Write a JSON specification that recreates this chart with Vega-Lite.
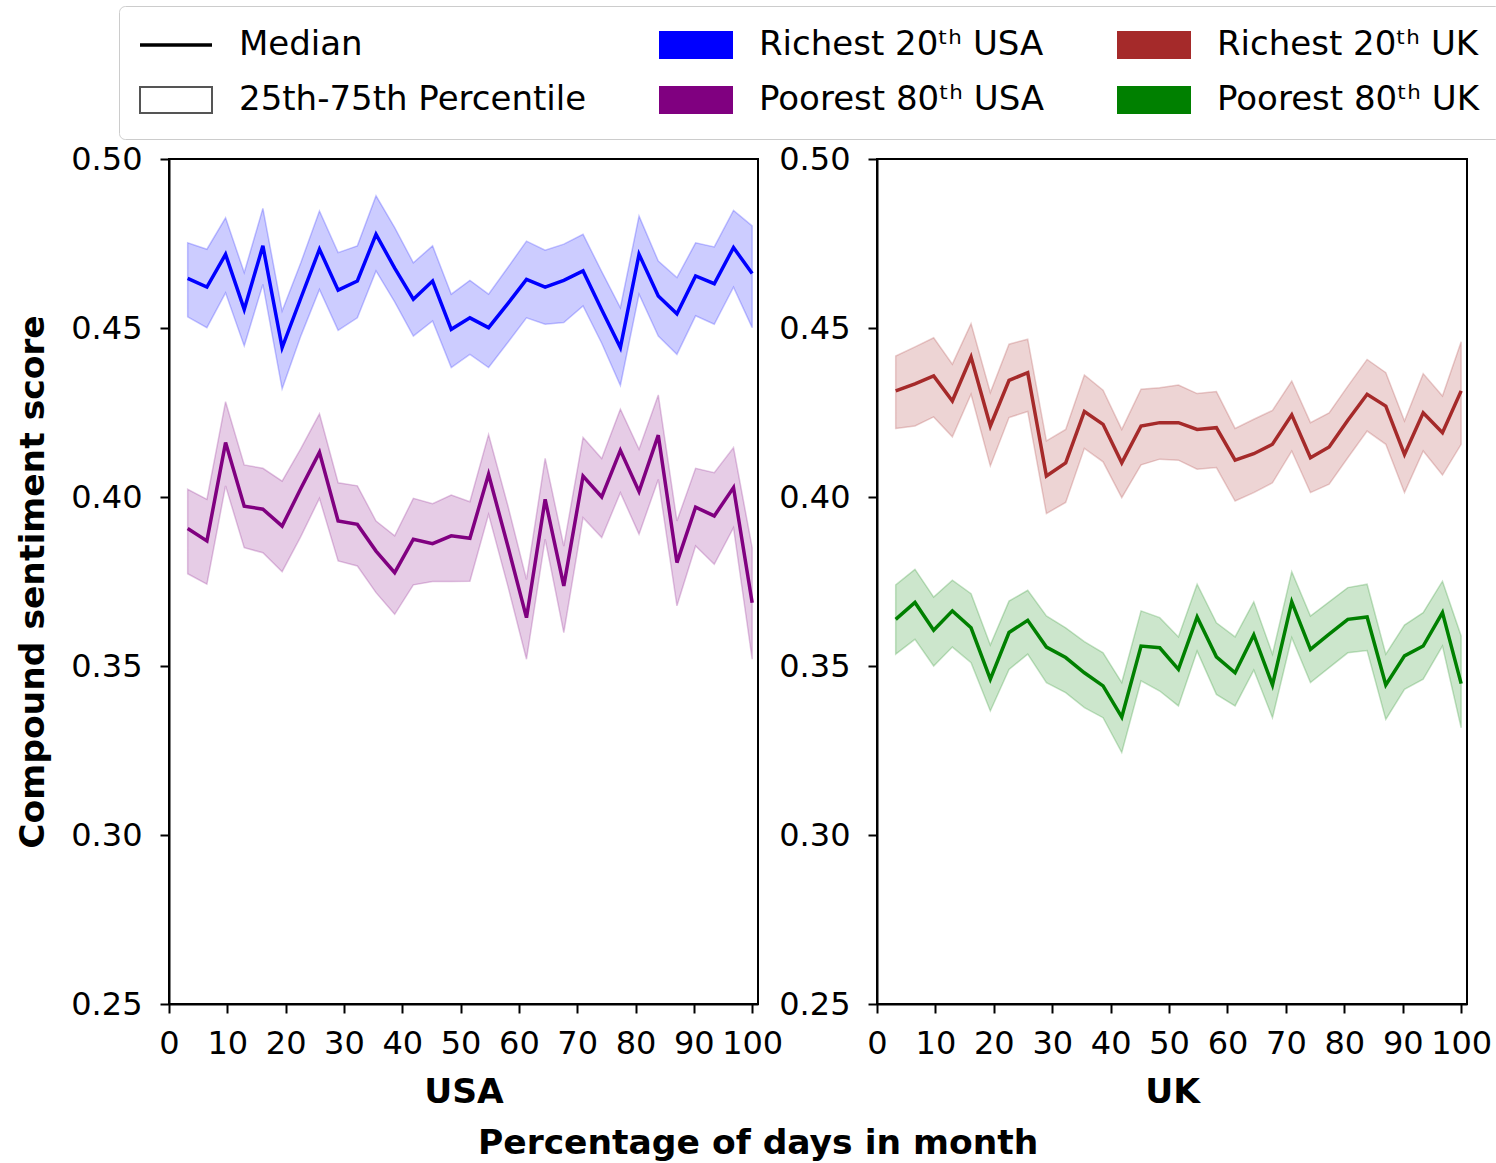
{
"$schema": "https://vega.github.io/schema/vega-lite/v6.json",
"padding": {"left": 14, "top": 5, "right": 4, "bottom": 6},
"background": "white",
"bounds": "flush",
"spacing": 119,
"title": {"text": "Percentage of days in month", "orient": "bottom", "anchor": "middle", "font": "DejaVu Sans", "fontSize": 34.5, "fontWeight": "bold", "color": "black", "offset": 17},
"data": {"values": [
{"c":"USA","g":"Richest 20\u1d57\u02b0 USA","x":3.2,"m":0.4647,"l":0.4533,"h":0.4752},
{"c":"USA","g":"Richest 20\u1d57\u02b0 USA","x":6.5,"m":0.4621,"l":0.4501,"h":0.4733},
{"c":"USA","g":"Richest 20\u1d57\u02b0 USA","x":9.7,"m":0.4718,"l":0.4604,"h":0.4826},
{"c":"USA","g":"Richest 20\u1d57\u02b0 USA","x":12.9,"m":0.4555,"l":0.4447,"h":0.4664},
{"c":"USA","g":"Richest 20\u1d57\u02b0 USA","x":16.1,"m":0.4743,"l":0.4629,"h":0.4854},
{"c":"USA","g":"Richest 20\u1d57\u02b0 USA","x":19.4,"m":0.4442,"l":0.4320,"h":0.4550},
{"c":"USA","g":"Richest 20\u1d57\u02b0 USA","x":22.6,"m":0.4588,"l":0.4476,"h":0.4693},
{"c":"USA","g":"Richest 20\u1d57\u02b0 USA","x":25.8,"m":0.4733,"l":0.4614,"h":0.4846},
{"c":"USA","g":"Richest 20\u1d57\u02b0 USA","x":29.0,"m":0.4612,"l":0.4493,"h":0.4723},
{"c":"USA","g":"Richest 20\u1d57\u02b0 USA","x":32.3,"m":0.4639,"l":0.4530,"h":0.4743},
{"c":"USA","g":"Richest 20\u1d57\u02b0 USA","x":35.5,"m":0.4777,"l":0.4669,"h":0.4891},
{"c":"USA","g":"Richest 20\u1d57\u02b0 USA","x":38.7,"m":0.4677,"l":0.4577,"h":0.4797},
{"c":"USA","g":"Richest 20\u1d57\u02b0 USA","x":41.9,"m":0.4585,"l":0.4476,"h":0.4693},
{"c":"USA","g":"Richest 20\u1d57\u02b0 USA","x":45.2,"m":0.4639,"l":0.4521,"h":0.4743},
{"c":"USA","g":"Richest 20\u1d57\u02b0 USA","x":48.4,"m":0.4496,"l":0.4383,"h":0.4600},
{"c":"USA","g":"Richest 20\u1d57\u02b0 USA","x":51.6,"m":0.4530,"l":0.4422,"h":0.4641},
{"c":"USA","g":"Richest 20\u1d57\u02b0 USA","x":54.8,"m":0.4501,"l":0.4383,"h":0.4600},
{"c":"USA","g":"Richest 20\u1d57\u02b0 USA","x":58.1,"m":0.4572,"l":0.4457,"h":0.4679},
{"c":"USA","g":"Richest 20\u1d57\u02b0 USA","x":61.3,"m":0.4644,"l":0.4530,"h":0.4757},
{"c":"USA","g":"Richest 20\u1d57\u02b0 USA","x":64.5,"m":0.4621,"l":0.4511,"h":0.4730},
{"c":"USA","g":"Richest 20\u1d57\u02b0 USA","x":67.7,"m":0.4641,"l":0.4516,"h":0.4748},
{"c":"USA","g":"Richest 20\u1d57\u02b0 USA","x":71.0,"m":0.4669,"l":0.4565,"h":0.4777},
{"c":"USA","g":"Richest 20\u1d57\u02b0 USA","x":74.2,"m":0.4554,"l":0.4455,"h":0.4667},
{"c":"USA","g":"Richest 20\u1d57\u02b0 USA","x":77.4,"m":0.4442,"l":0.4330,"h":0.4560},
{"c":"USA","g":"Richest 20\u1d57\u02b0 USA","x":80.6,"m":0.4718,"l":0.4600,"h":0.4831},
{"c":"USA","g":"Richest 20\u1d57\u02b0 USA","x":83.9,"m":0.4595,"l":0.4476,"h":0.4698},
{"c":"USA","g":"Richest 20\u1d57\u02b0 USA","x":87.1,"m":0.4542,"l":0.4422,"h":0.4649},
{"c":"USA","g":"Richest 20\u1d57\u02b0 USA","x":90.3,"m":0.4654,"l":0.4536,"h":0.4752},
{"c":"USA","g":"Richest 20\u1d57\u02b0 USA","x":93.5,"m":0.4631,"l":0.4511,"h":0.4740},
{"c":"USA","g":"Richest 20\u1d57\u02b0 USA","x":96.8,"m":0.4738,"l":0.4621,"h":0.4848},
{"c":"USA","g":"Richest 20\u1d57\u02b0 USA","x":100,"m":0.4661,"l":0.4501,"h":0.4802},
{"c":"USA","g":"Poorest 80\u1d57\u02b0 USA","x":3.2,"m":0.3907,"l":0.3773,"h":0.4023},
{"c":"USA","g":"Poorest 80\u1d57\u02b0 USA","x":6.5,"m":0.3870,"l":0.3742,"h":0.3993},
{"c":"USA","g":"Poorest 80\u1d57\u02b0 USA","x":9.7,"m":0.4161,"l":0.4033,"h":0.4282},
{"c":"USA","g":"Poorest 80\u1d57\u02b0 USA","x":12.9,"m":0.3973,"l":0.3850,"h":0.4095},
{"c":"USA","g":"Poorest 80\u1d57\u02b0 USA","x":16.1,"m":0.3964,"l":0.3835,"h":0.4085},
{"c":"USA","g":"Poorest 80\u1d57\u02b0 USA","x":19.4,"m":0.3914,"l":0.3779,"h":0.4047},
{"c":"USA","g":"Poorest 80\u1d57\u02b0 USA","x":22.6,"m":0.4025,"l":0.3883,"h":0.4143},
{"c":"USA","g":"Poorest 80\u1d57\u02b0 USA","x":25.8,"m":0.4132,"l":0.3996,"h":0.4246},
{"c":"USA","g":"Poorest 80\u1d57\u02b0 USA","x":29.0,"m":0.3929,"l":0.3811,"h":0.4042},
{"c":"USA","g":"Poorest 80\u1d57\u02b0 USA","x":32.3,"m":0.3919,"l":0.3796,"h":0.4033},
{"c":"USA","g":"Poorest 80\u1d57\u02b0 USA","x":35.5,"m":0.3840,"l":0.3717,"h":0.3929},
{"c":"USA","g":"Poorest 80\u1d57\u02b0 USA","x":38.7,"m":0.3776,"l":0.3653,"h":0.3885},
{"c":"USA","g":"Poorest 80\u1d57\u02b0 USA","x":41.9,"m":0.3875,"l":0.3740,"h":0.3996},
{"c":"USA","g":"Poorest 80\u1d57\u02b0 USA","x":45.2,"m":0.3862,"l":0.3750,"h":0.3980},
{"c":"USA","g":"Poorest 80\u1d57\u02b0 USA","x":48.4,"m":0.3885,"l":0.3750,"h":0.4006},
{"c":"USA","g":"Poorest 80\u1d57\u02b0 USA","x":51.6,"m":0.3878,"l":0.3751,"h":0.3986},
{"c":"USA","g":"Poorest 80\u1d57\u02b0 USA","x":54.8,"m":0.4067,"l":0.3949,"h":0.4185},
{"c":"USA","g":"Poorest 80\u1d57\u02b0 USA","x":58.1,"m":0.3855,"l":0.3737,"h":0.3975},
{"c":"USA","g":"Poorest 80\u1d57\u02b0 USA","x":61.3,"m":0.3643,"l":0.3520,"h":0.3756},
{"c":"USA","g":"Poorest 80\u1d57\u02b0 USA","x":64.5,"m":0.3993,"l":0.3875,"h":0.4114},
{"c":"USA","g":"Poorest 80\u1d57\u02b0 USA","x":67.7,"m":0.3737,"l":0.3599,"h":0.3855},
{"c":"USA","g":"Poorest 80\u1d57\u02b0 USA","x":71.0,"m":0.4062,"l":0.3939,"h":0.4176},
{"c":"USA","g":"Poorest 80\u1d57\u02b0 USA","x":74.2,"m":0.4000,"l":0.3880,"h":0.4114},
{"c":"USA","g":"Poorest 80\u1d57\u02b0 USA","x":77.4,"m":0.4138,"l":0.4013,"h":0.4260},
{"c":"USA","g":"Poorest 80\u1d57\u02b0 USA","x":80.6,"m":0.4016,"l":0.3890,"h":0.4141},
{"c":"USA","g":"Poorest 80\u1d57\u02b0 USA","x":83.9,"m":0.4183,"l":0.4052,"h":0.4302},
{"c":"USA","g":"Poorest 80\u1d57\u02b0 USA","x":87.1,"m":0.3806,"l":0.3678,"h":0.3929},
{"c":"USA","g":"Poorest 80\u1d57\u02b0 USA","x":90.3,"m":0.3970,"l":0.3855,"h":0.4085},
{"c":"USA","g":"Poorest 80\u1d57\u02b0 USA","x":93.5,"m":0.3944,"l":0.3801,"h":0.4072},
{"c":"USA","g":"Poorest 80\u1d57\u02b0 USA","x":96.8,"m":0.4028,"l":0.3909,"h":0.4146},
{"c":"USA","g":"Poorest 80\u1d57\u02b0 USA","x":100,"m":0.3687,"l":0.3520,"h":0.3850},
{"c":"UK","g":"Richest 20\u1d57\u02b0 UK","x":3.2,"m":0.4314,"l":0.4203,"h":0.4417},
{"c":"UK","g":"Richest 20\u1d57\u02b0 UK","x":6.5,"m":0.4335,"l":0.4210,"h":0.4444},
{"c":"UK","g":"Richest 20\u1d57\u02b0 UK","x":9.7,"m":0.4358,"l":0.4237,"h":0.4471},
{"c":"UK","g":"Richest 20\u1d57\u02b0 UK","x":12.9,"m":0.4284,"l":0.4178,"h":0.4393},
{"c":"UK","g":"Richest 20\u1d57\u02b0 UK","x":16.1,"m":0.4414,"l":0.4304,"h":0.4513},
{"c":"UK","g":"Richest 20\u1d57\u02b0 UK","x":19.4,"m":0.4210,"l":0.4092,"h":0.4309},
{"c":"UK","g":"Richest 20\u1d57\u02b0 UK","x":22.6,"m":0.4345,"l":0.4235,"h":0.4452},
{"c":"UK","g":"Richest 20\u1d57\u02b0 UK","x":25.8,"m":0.4368,"l":0.4253,"h":0.4467},
{"c":"UK","g":"Richest 20\u1d57\u02b0 UK","x":29.0,"m":0.4062,"l":0.3951,"h":0.4166},
{"c":"UK","g":"Richest 20\u1d57\u02b0 UK","x":32.3,"m":0.4101,"l":0.3984,"h":0.4200},
{"c":"UK","g":"Richest 20\u1d57\u02b0 UK","x":35.5,"m":0.4253,"l":0.4144,"h":0.4361},
{"c":"UK","g":"Richest 20\u1d57\u02b0 UK","x":38.7,"m":0.4215,"l":0.4104,"h":0.4316},
{"c":"UK","g":"Richest 20\u1d57\u02b0 UK","x":41.9,"m":0.4101,"l":0.3998,"h":0.4200},
{"c":"UK","g":"Richest 20\u1d57\u02b0 UK","x":45.2,"m":0.4210,"l":0.4095,"h":0.4319},
{"c":"UK","g":"Richest 20\u1d57\u02b0 UK","x":48.4,"m":0.4220,"l":0.4112,"h":0.4323},
{"c":"UK","g":"Richest 20\u1d57\u02b0 UK","x":51.6,"m":0.4220,"l":0.4109,"h":0.4331},
{"c":"UK","g":"Richest 20\u1d57\u02b0 UK","x":54.8,"m":0.4200,"l":0.4082,"h":0.4306},
{"c":"UK","g":"Richest 20\u1d57\u02b0 UK","x":58.1,"m":0.4205,"l":0.4087,"h":0.4312},
{"c":"UK","g":"Richest 20\u1d57\u02b0 UK","x":61.3,"m":0.4109,"l":0.3988,"h":0.4203},
{"c":"UK","g":"Richest 20\u1d57\u02b0 UK","x":64.5,"m":0.4128,"l":0.4013,"h":0.4230},
{"c":"UK","g":"Richest 20\u1d57\u02b0 UK","x":67.7,"m":0.4156,"l":0.4042,"h":0.4256},
{"c":"UK","g":"Richest 20\u1d57\u02b0 UK","x":71.0,"m":0.4243,"l":0.4136,"h":0.4343},
{"c":"UK","g":"Richest 20\u1d57\u02b0 UK","x":74.2,"m":0.4116,"l":0.4013,"h":0.4220},
{"c":"UK","g":"Richest 20\u1d57\u02b0 UK","x":77.4,"m":0.4148,"l":0.4038,"h":0.4249},
{"c":"UK","g":"Richest 20\u1d57\u02b0 UK","x":80.6,"m":0.4227,"l":0.4116,"h":0.4328},
{"c":"UK","g":"Richest 20\u1d57\u02b0 UK","x":83.9,"m":0.4304,"l":0.4195,"h":0.4407},
{"c":"UK","g":"Richest 20\u1d57\u02b0 UK","x":87.1,"m":0.4269,"l":0.4156,"h":0.4368},
{"c":"UK","g":"Richest 20\u1d57\u02b0 UK","x":90.3,"m":0.4126,"l":0.4013,"h":0.4225},
{"c":"UK","g":"Richest 20\u1d57\u02b0 UK","x":93.5,"m":0.4249,"l":0.4136,"h":0.4365},
{"c":"UK","g":"Richest 20\u1d57\u02b0 UK","x":96.8,"m":0.4190,"l":0.4065,"h":0.4299},
{"c":"UK","g":"Richest 20\u1d57\u02b0 UK","x":100,"m":0.4314,"l":0.4156,"h":0.4459},
{"c":"UK","g":"Poorest 80\u1d57\u02b0 UK","x":3.2,"m":0.3638,"l":0.3535,"h":0.3740},
{"c":"UK","g":"Poorest 80\u1d57\u02b0 UK","x":6.5,"m":0.3688,"l":0.3579,"h":0.3786},
{"c":"UK","g":"Poorest 80\u1d57\u02b0 UK","x":9.7,"m":0.3606,"l":0.3500,"h":0.3704},
{"c":"UK","g":"Poorest 80\u1d57\u02b0 UK","x":12.9,"m":0.3663,"l":0.3556,"h":0.3754},
{"c":"UK","g":"Poorest 80\u1d57\u02b0 UK","x":16.1,"m":0.3613,"l":0.3510,"h":0.3714},
{"c":"UK","g":"Poorest 80\u1d57\u02b0 UK","x":19.4,"m":0.3461,"l":0.3367,"h":0.3562},
{"c":"UK","g":"Poorest 80\u1d57\u02b0 UK","x":22.6,"m":0.3599,"l":0.3490,"h":0.3692},
{"c":"UK","g":"Poorest 80\u1d57\u02b0 UK","x":25.8,"m":0.3635,"l":0.3535,"h":0.3724},
{"c":"UK","g":"Poorest 80\u1d57\u02b0 UK","x":29.0,"m":0.3556,"l":0.3451,"h":0.3648},
{"c":"UK","g":"Poorest 80\u1d57\u02b0 UK","x":32.3,"m":0.3525,"l":0.3421,"h":0.3613},
{"c":"UK","g":"Poorest 80\u1d57\u02b0 UK","x":35.5,"m":0.3480,"l":0.3377,"h":0.3572},
{"c":"UK","g":"Poorest 80\u1d57\u02b0 UK","x":38.7,"m":0.3441,"l":0.3347,"h":0.3539},
{"c":"UK","g":"Poorest 80\u1d57\u02b0 UK","x":41.9,"m":0.3349,"l":0.3244,"h":0.3451},
{"c":"UK","g":"Poorest 80\u1d57\u02b0 UK","x":45.2,"m":0.3559,"l":0.3456,"h":0.3663},
{"c":"UK","g":"Poorest 80\u1d57\u02b0 UK","x":48.4,"m":0.3554,"l":0.3426,"h":0.3643},
{"c":"UK","g":"Poorest 80\u1d57\u02b0 UK","x":51.6,"m":0.3490,"l":0.3382,"h":0.3586},
{"c":"UK","g":"Poorest 80\u1d57\u02b0 UK","x":54.8,"m":0.3645,"l":0.3544,"h":0.3742},
{"c":"UK","g":"Poorest 80\u1d57\u02b0 UK","x":58.1,"m":0.3527,"l":0.3416,"h":0.3628},
{"c":"UK","g":"Poorest 80\u1d57\u02b0 UK","x":61.3,"m":0.3480,"l":0.3382,"h":0.3586},
{"c":"UK","g":"Poorest 80\u1d57\u02b0 UK","x":64.5,"m":0.3592,"l":0.3488,"h":0.3690},
{"c":"UK","g":"Poorest 80\u1d57\u02b0 UK","x":67.7,"m":0.3444,"l":0.3347,"h":0.3535},
{"c":"UK","g":"Poorest 80\u1d57\u02b0 UK","x":71.0,"m":0.3690,"l":0.3584,"h":0.3779},
{"c":"UK","g":"Poorest 80\u1d57\u02b0 UK","x":74.2,"m":0.3549,"l":0.3451,"h":0.3648},
{"c":"UK","g":"Poorest 80\u1d57\u02b0 UK","x":77.4,"m":0.3594,"l":0.3495,"h":0.3690},
{"c":"UK","g":"Poorest 80\u1d57\u02b0 UK","x":80.6,"m":0.3638,"l":0.3539,"h":0.3732},
{"c":"UK","g":"Poorest 80\u1d57\u02b0 UK","x":83.9,"m":0.3645,"l":0.3546,"h":0.3742},
{"c":"UK","g":"Poorest 80\u1d57\u02b0 UK","x":87.1,"m":0.3444,"l":0.3342,"h":0.3535},
{"c":"UK","g":"Poorest 80\u1d57\u02b0 UK","x":90.3,"m":0.3530,"l":0.3431,"h":0.3621},
{"c":"UK","g":"Poorest 80\u1d57\u02b0 UK","x":93.5,"m":0.3559,"l":0.3461,"h":0.3658},
{"c":"UK","g":"Poorest 80\u1d57\u02b0 UK","x":96.8,"m":0.3658,"l":0.3559,"h":0.3751},
{"c":"UK","g":"Poorest 80\u1d57\u02b0 UK","x":100,"m":0.3448,"l":0.3317,"h":0.3589}
]},
"hconcat": [
{
"width": 589, "height": 845,
"transform": [{"filter": "datum.c === 'USA'"}],
"encoding": {
 "x": {"field": "x", "type": "quantitative", "title": "USA", "scale": {"domain": [0, 101], "nice": false}, "axis": {"values": [0,10,20,30,40,50,60,70,80,90,100]}}
},
"layer": [
 {"mark": {"type": "area", "fillOpacity": 0.2, "strokeOpacity": 0.22, "strokeWidth": 1.5},
  "encoding": {
   "y": {"field": "l", "type": "quantitative", "title": "Compound sentiment score", "scale": {"domain": [0.25, 0.5], "nice": false, "zero": false}, "axis": {"values": [0.25,0.3,0.35,0.4,0.45,0.5], "format": ".2f"}},
   "y2": {"field": "h"},
   "fill": {"field": "g", "type": "nominal",
    "scale": {"domain": ["Median", "Richest 20\u1d57\u02b0 USA", "Richest 20\u1d57\u02b0 UK", "25th-75th Percentile", "Poorest 80\u1d57\u02b0 USA", "Poorest 80\u1d57\u02b0 UK"], "range": ["black", "#0000ff", "#a52a2a", "white", "#800080", "#008000"]},
    "legend": {"orient": "none", "legendX": -50, "legendY": -153, "columns": 3, "title": null, "direction": "horizontal",
      "labelFont": "DejaVu Sans", "labelFontSize": 34, "labelColor": "black", "labelLimit": 0,
      "columnPadding": 69, "rowPadding": 21, "labelOffset": 64, "padding": 22,
      "symbolSize": 5184, "symbolType": "M-0.5,-0.36L1.5,-0.36L1.5,0.36L-0.5,0.36Z", "symbolStrokeWidth": 2, "symbolOpacity": 1,
      "strokeColor": "#cccccc", "cornerRadius": 6, "fillColor": "white",
      "encode": {"symbols": {"update": {
        "shape": {"signal": "datum.value === 'Median' ? 'M-0.5,0L1.5,0' : 'M-0.5,-0.36L1.5,-0.36L1.5,0.36L-0.5,0.36Z'"},
        "strokeWidth": {"signal": "datum.value === 'Median' ? 3.5 : 2"},
        "opacity": {"value": 1},
        "fillOpacity": {"value": 1},
        "strokeOpacity": {"value": 1}
      }}}
    }},
   "stroke": {"field": "g", "type": "nominal",
    "scale": {"domain": ["Median", "Richest 20\u1d57\u02b0 USA", "Richest 20\u1d57\u02b0 UK", "25th-75th Percentile", "Poorest 80\u1d57\u02b0 USA", "Poorest 80\u1d57\u02b0 UK"], "range": ["black", "#0000ff", "#a52a2a", "#555555", "#800080", "#008000"]}}
  }},
 {"mark": {"type": "line", "strokeWidth": 3.5},
  "encoding": {
   "y": {"field": "m", "type": "quantitative", "title": "Compound sentiment score"},
   "stroke": {"field": "g", "type": "nominal"}
  }}
]
},
{
"width": 590, "height": 845,
"transform": [{"filter": "datum.c === 'UK'"}],
"encoding": {
 "x": {"field": "x", "type": "quantitative", "title": "UK", "scale": {"domain": [0, 101], "nice": false}, "axis": {"values": [0,10,20,30,40,50,60,70,80,90,100]}}
},
"layer": [
 {"mark": {"type": "area", "fillOpacity": 0.2, "strokeOpacity": 0.22, "strokeWidth": 1.5},
  "encoding": {
   "y": {"field": "l", "type": "quantitative", "title": null, "scale": {"domain": [0.25, 0.5], "nice": false, "zero": false}, "axis": {"values": [0.25,0.3,0.35,0.4,0.45,0.5], "format": ".2f"}},
   "y2": {"field": "h"},
   "fill": {"field": "g", "type": "nominal"},
   "stroke": {"field": "g", "type": "nominal"}
  }},
 {"mark": {"type": "line", "strokeWidth": 3.5},
  "encoding": {
   "y": {"field": "m", "type": "quantitative", "title": null},
   "stroke": {"field": "g", "type": "nominal"}
  }}
]
}
],
"resolve": {"scale": {"fill": "shared", "stroke": "shared"}, "legend": {"fill": "shared", "stroke": "shared"}},
"config": {
 "view": {"stroke": "black", "strokeWidth": 2},
 "font": "DejaVu Sans",
 "axis": {"grid": false, "labelFont": "DejaVu Sans", "labelFontSize": 32, "labelColor": "black", "titleFont": "DejaVu Sans", "titleFontSize": 34.5, "titleFontWeight": "bold", "titleColor": "black", "tickColor": "black", "tickSize": 9, "tickWidth": 2, "domainColor": "black", "domainWidth": 2, "labelFlush": false, "labelOverlap": false},
 "axisX": {"labelPadding": 15, "titlePadding": 16},
 "axisY": {"labelPadding": 18, "titlePadding": 20}
}
}
